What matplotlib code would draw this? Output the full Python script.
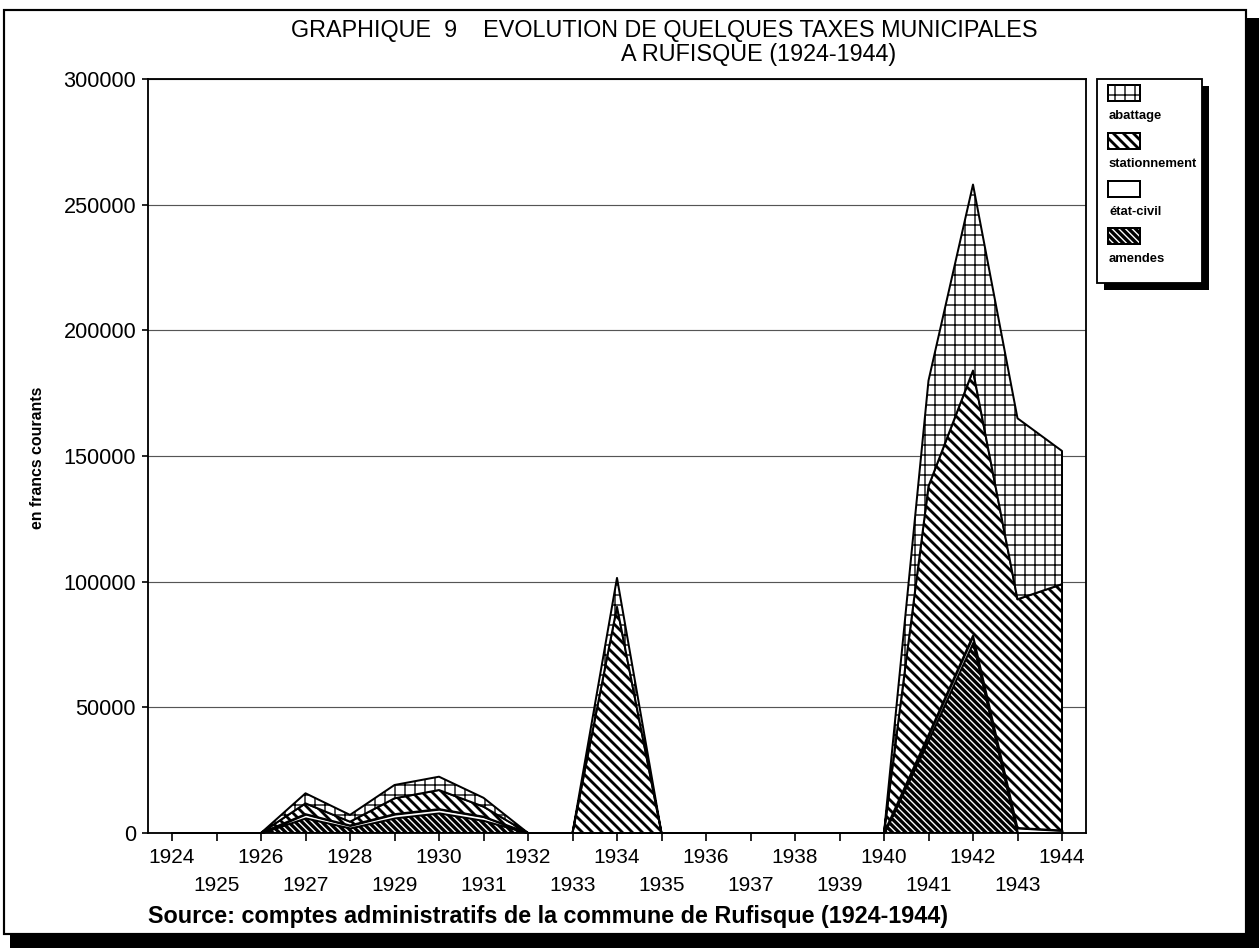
import matplotlib
matplotlib.use("Agg")
import matplotlib.pyplot as plt
from matplotlib.patches import Rectangle
import numpy as np

# ---- data (francs courants) ----
years = list(range(1924, 1945))
amendes = [0, 0, 0, 6000, 2000, 6000, 8000, 5000, 0, 0, 0, 0, 0, 0, 0, 0, 0,
           37000, 76000, 0, 0]
etat_civil = [0, 0, 0, 1500, 1000, 1500, 1500, 1500, 0, 0, 0, 0, 0, 0, 0, 0, 0,
              2000, 2500, 2000, 1000]
stationnement = [0, 0, 0, 4300, 1500, 6300, 7600, 4000, 0, 0, 90000, 0, 0, 0, 0, 0, 0,
                 99000, 105500, 91000, 98000]
abattage = [0, 0, 0, 4000, 2700, 5300, 5300, 3500, 0, 0, 11500, 0, 0, 0, 0, 0, 0,
            42000, 74000, 72000, 53000]
yticks = [0, 50000, 100000, 150000, 200000, 250000, 300000]
legend_names = ["abattage", "stationnement", "état-civil", "amendes"]

W, H, DPI = 1259, 950, 120
plt.rcParams["font.family"] = ["Liberation Sans", "DejaVu Sans"]


def fx(px):
    return px / W


def fy(py):
    return 1 - py / H


fig = plt.figure(figsize=(W / DPI, H / DPI), dpi=DPI)
ax = fig.add_axes([fx(148), fy(833), (1086 - 148) / W, (833 - 79) / H])

# stacked layers, bottom to top: name, values, hatch, hatch linewidth
layers = [
    ("amendes", amendes, "\\" * 6, 2.0),
    ("état-civil", etat_civil, None, 1.0),
    ("stationnement", stationnement, "\\" * 4, 1.7),
    ("abattage", abattage, "++", 0.8),
]
styles = {}
base = np.zeros(len(years))
for name, vals, hatch, hlw in layers:
    top = base + np.asarray(vals, dtype=float)
    with plt.rc_context({"hatch.linewidth": hlw, "hatch.color": "black"}):
        coll = ax.fill_between(years, base, top, facecolor="white", edgecolor="black",
                               linewidth=1.2, hatch=hatch, zorder=2)
        if hasattr(coll, "set_hatch_linewidth"):
            coll.set_hatch_linewidth(hlw)
    styles[name] = (hatch, hlw)
    base = top

ax.set_xlim(1924 - 24 / 44.5, 1944 + 24 / 44.5)
ax.set_ylim(0, 300000)
ax.set_yticks(yticks)
ax.set_yticklabels([str(v) for v in yticks], fontsize=13)
ax.yaxis.grid(True, color="#555555", linewidth=0.7, zorder=0)
ax.set_axisbelow(True)
ax.tick_params(axis="y", direction="out", length=3.6, width=1.0, pad=3.5)
ax.set_xticks(years)
ax.set_xticklabels([])
ax.tick_params(axis="x", direction="out", length=5, width=1.0)
for s in ax.spines.values():
    s.set_linewidth(1.1)

xtr = ax.get_xaxis_transform()
for yr in years:
    ypos = -0.032 if yr % 2 == 0 else -0.070
    ax.text(yr, ypos, str(yr), transform=xtr, ha="center", va="center", fontsize=12.5)

# titles and notes
fig.text(fx(664), fy(31), "GRAPHIQUE  9    EVOLUTION DE QUELQUES TAXES MUNICIPALES",
         ha="center", va="center", fontsize=14)
fig.text(fx(759), fy(54), "A RUFISQUE (1924-1944)", ha="center", va="center", fontsize=14)
fig.text(fx(38), fy(458), "en francs courants", rotation=90, ha="center", va="center",
         fontsize=9.5, fontweight="bold")
fig.text(fx(148), fy(916), "Source: comptes administratifs de la commune de Rufisque (1924-1944)",
         ha="left", va="center", fontsize=14, fontweight="bold")

# outer frame with shadow
fig.patches.append(Rectangle((fx(1247), fy(948)), 12 / W, (948 - 18) / H, transform=fig.transFigure,
                             facecolor="black", edgecolor="none", zorder=0))
fig.patches.append(Rectangle((fx(10), fy(948)), (1259 - 10) / W, 13 / H, transform=fig.transFigure,
                             facecolor="black", edgecolor="none", zorder=0))
fig.patches.append(Rectangle((fx(4), fy(934)), (1246 - 4) / W, (934 - 10) / H, transform=fig.transFigure,
                             facecolor="none", edgecolor="black", linewidth=1.3, zorder=1))

# legend box with shadow
lx0, ly0, lx1, ly1 = 1097, 79, 1202, 283
fig.patches.append(Rectangle((fx(lx0 + 7), fy(ly1 + 7)), (lx1 - lx0) / W, (ly1 - ly0) / H,
                             transform=fig.transFigure, facecolor="black", edgecolor="none", zorder=3))
fig.patches.append(Rectangle((fx(lx0), fy(ly1)), (lx1 - lx0) / W, (ly1 - ly0) / H,
                             transform=fig.transFigure, facecolor="white", edgecolor="black",
                             linewidth=1.1, zorder=4))
patch_tops = [85, 133, 181, 228]
for name, pt in zip(legend_names, patch_tops):
    hatch, hlw = styles[name]
    with plt.rc_context({"hatch.linewidth": hlw, "hatch.color": "black"}):
        r = Rectangle((fx(1108), fy(pt + 16)), 32 / W, 16 / H, transform=fig.transFigure,
                      facecolor="white", edgecolor="black", linewidth=1.2, hatch=hatch, zorder=5)
        if hasattr(r, "set_hatch_linewidth"):
            r.set_hatch_linewidth(hlw)
    fig.patches.append(r)
    fig.text(fx(1109), fy(pt + 31), name, ha="left", va="center", fontsize=7.8,
             fontweight="bold", zorder=6)

fig.savefig("out.png", dpi=DPI, facecolor="white")
